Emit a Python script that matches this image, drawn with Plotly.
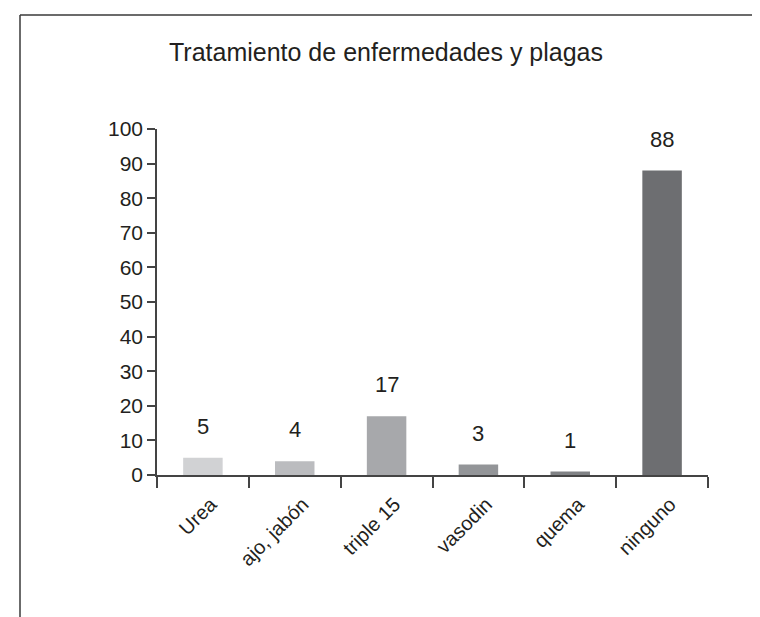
import plotly.graph_objects as go

categories = ["Urea", "ajo, jabón", "triple 15", "vasodin", "quema", "ninguno"]
values = [5, 4, 17, 3, 1, 88]
bar_colors = ["#d1d2d4", "#bbbcbf", "#a7a8ab", "#939598", "#808285", "#6d6e71"]
y_ticks = list(range(0, 101, 10))
title_text = "Tratamiento de enfermedades y plagas"

W, H = 760, 617
L, R, T, B = 149, 60, 121, 150
FONT = "Liberation Sans Narrow, Arial Narrow, Liberation Sans, Arial, sans-serif"
TXT = "#231f20"

fig = go.Figure()
fig.add_trace(go.Bar(
    x=categories, y=values,
    marker=dict(color=bar_colors, line=dict(width=0)),
    width=0.43,
    hoverinfo="skip",
))

for c, v in zip(categories, values):
    fig.add_annotation(x=c, y=v, text=str(v), showarrow=False,
                       yanchor="bottom", yshift=17,
                       font=dict(family=FONT, size=22, color=TXT))

pw = W - L - R
ph = H - T - B
def px2paper(px, py):
    return (px - L) / pw, (H - B - py) / ph

x0, y0 = px2paper(12, 7)
x1, _ = px2paper(W + 5, 7)
_, y1 = px2paper(12, H + 5)
fig.add_shape(type="line", xref="paper", yref="paper", x0=x0, y0=y0, x1=x1, y1=y0,
              line=dict(color="#3a3a3a", width=1.5))
fig.add_shape(type="line", xref="paper", yref="paper", x0=x0, y0=y0, x1=x0, y1=y1,
              line=dict(color="#3a3a3a", width=1.5))

fig.update_layout(
    width=W, height=H,
    margin=dict(l=L, r=R, t=T, b=B, autoexpand=False),
    paper_bgcolor="white", plot_bgcolor="white",
    showlegend=False,
    title=dict(text=title_text, x=378 / W, xanchor="center",
               y=1 - 44 / H, yanchor="middle",
               font=dict(family="Liberation Sans, Arial, sans-serif", size=25, color=TXT)),
    font=dict(family=FONT, color=TXT),
)
fig.update_xaxes(
    showline=True, linecolor="#444444", linewidth=1.5,
    ticks="outside", ticklen=11, tickcolor="#444444", tickwidth=1.5,
    tickson="boundaries", tickangle=-45,
    ticklabelstandoff=8, ticklabelshift=8,
    tickfont=dict(family=FONT, size=20, color=TXT),
    showgrid=False, zeroline=False,
)
fig.update_yaxes(
    range=[0, 100], tickvals=y_ticks,
    showline=True, linecolor="#444444", linewidth=1.5,
    ticks="outside", ticklen=8, tickcolor="#444444", tickwidth=1.5,
    tickfont=dict(family=FONT, size=21, color=TXT),
    showgrid=False, zeroline=False,
)

fig.write_html("out.html")
